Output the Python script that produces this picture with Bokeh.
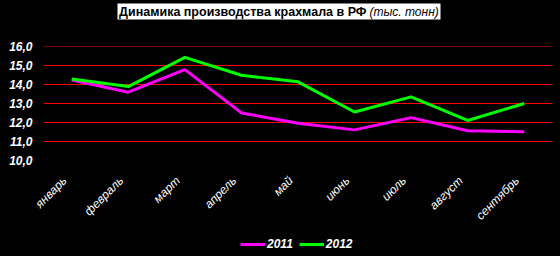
import math
from bokeh.plotting import figure
from bokeh.layouts import column
from bokeh.models import Legend, LegendItem, Range1d, FixedTicker, LinearAxis
from bokeh.core.properties import value
from bokeh.embed import file_html
from bokeh.resources import INLINE

months = ["январь", "февраль", "март", "апрель", "май", "июнь", "июль", "август", "сентябрь"]
v2011 = [14.25, 13.6, 14.8, 12.5, 11.95, 11.6, 12.25, 11.55, 11.5]
v2012 = [14.3, 13.9, 15.45, 14.5, 14.15, 12.55, 13.35, 12.1, 13.0]
series_names = ["2011", "2012"]
y_ticks = [10, 11, 12, 13, 14, 15, 16]
y_labels = {t: f"{t},0" for t in y_ticks}
title_main = "Динамика производства крахмала в РФ"
title_unit = "(тыс. тонн)"

FONT = "Liberation Sans"
C2011 = "#FF00FF"
C2012 = "#00FF00"
BG = {"background-color": "black"}
BL, BR = 43, 8          # left/right borders shared by all strips
LABEL_SHIFT = 0.124     # slanted month labels sit slightly left of their category centre

# category i occupies the band [i, i+1]; its point sits at the band centre
x_pos = [i + 0.5 for i in range(len(months))]


def strip(height, y_range):
    f = figure(width=560, height=height, x_range=Range1d(BL, 560 - BR), y_range=y_range,
               output_backend="svg", toolbar_location=None, min_border_left=BL,
               min_border_right=BR, min_border_top=0, min_border_bottom=0,
               x_axis_location=None, y_axis_location=None, styles=BG)
    f.background_fill_color = "black"
    f.border_fill_color = "black"
    f.outline_line_color = None
    f.grid.visible = False
    return f


# ---- title strip (page-pixel coordinates) ----
pt = strip(23, Range1d(23, 0))
pt.quad(left=[117], right=[440], top=[3], bottom=[19], fill_color="white", line_color=None)
pt.text(x=[366], y=[11.5], text=[title_main], text_align="right", text_baseline="middle",
        text_color="black", text_font=value(FONT), text_font_style="bold", text_font_size="12.5px")
pt.text(x=[369], y=[11.5], text=[title_unit], text_align="left", text_baseline="middle",
        text_color="black", text_font=value(FONT), text_font_style="italic", text_font_size="12px")

# ---- main chart ----
half = 0.5 / 19
p = figure(width=560, height=207, x_range=Range1d(0, len(months)),
           y_range=Range1d(10 - half, 16 + half), output_backend="svg", toolbar_location=None,
           min_border_left=BL, min_border_right=BR, min_border_top=23, min_border_bottom=69,
           x_axis_location=None, styles=BG)
p.background_fill_color = "black"
p.border_fill_color = "black"
p.outline_line_color = None

p.xgrid.grid_line_color = None
p.ygrid.grid_line_color = "#FF0000"
p.ygrid.grid_line_width = 1
p.ygrid.ticker = FixedTicker(ticks=y_ticks[1:])

p.yaxis.ticker = FixedTicker(ticks=y_ticks)
p.yaxis.major_label_overrides = y_labels
p.yaxis.axis_line_color = None
p.yaxis.major_tick_line_color = None
p.yaxis.minor_tick_line_color = None
p.yaxis.major_tick_out = 0
p.yaxis.major_label_standoff = 11
p.yaxis.major_label_text_color = "white"
p.yaxis.major_label_text_font = FONT
p.yaxis.major_label_text_font_style = "bold italic"
p.yaxis.major_label_text_font_size = "12px"

lab_ticks = [x - LABEL_SHIFT for x in x_pos]
xax = LinearAxis(ticker=FixedTicker(ticks=lab_ticks),
                 major_label_overrides={t: m for t, m in zip(lab_ticks, months)})
xax.axis_line_color = None
xax.major_tick_line_color = None
xax.minor_tick_line_color = None
xax.major_tick_out = 0
xax.major_label_orientation = math.pi / 4
xax.major_label_standoff = 18
xax.major_label_text_color = "white"
xax.major_label_text_font = FONT
xax.major_label_text_font_style = "italic"
xax.major_label_text_font_size = "12px"
p.add_layout(xax, "below")

p.line(x_pos, v2011, line_color=C2011, line_width=3)
p.line(x_pos, v2012, line_color=C2012, line_width=3)

# ---- legend strip ----
pl = strip(26, Range1d(0, 1))
l1 = pl.line([-5, -4], [-5, -5], line_color=C2011, line_width=3)
l2 = pl.line([-5, -4], [-5, -5], line_color=C2012, line_width=3)
legend = Legend(items=[LegendItem(label=series_names[0], renderers=[l1]),
                       LegendItem(label=series_names[1], renderers=[l2])],
                orientation="horizontal", location=(240 - BL, 5), glyph_width=25, glyph_height=12,
                label_text_color="white", label_text_font=FONT, label_text_font_style="bold italic",
                label_text_font_size="12px", label_standoff=2, spacing=6, padding=0, margin=0,
                background_fill_alpha=0, border_line_color=None, label_height=12)
pl.add_layout(legend, "center")

layout = column(pt, p, pl, spacing=0, styles=BG)
open("out.html", "w").write(file_html(layout, INLINE))
